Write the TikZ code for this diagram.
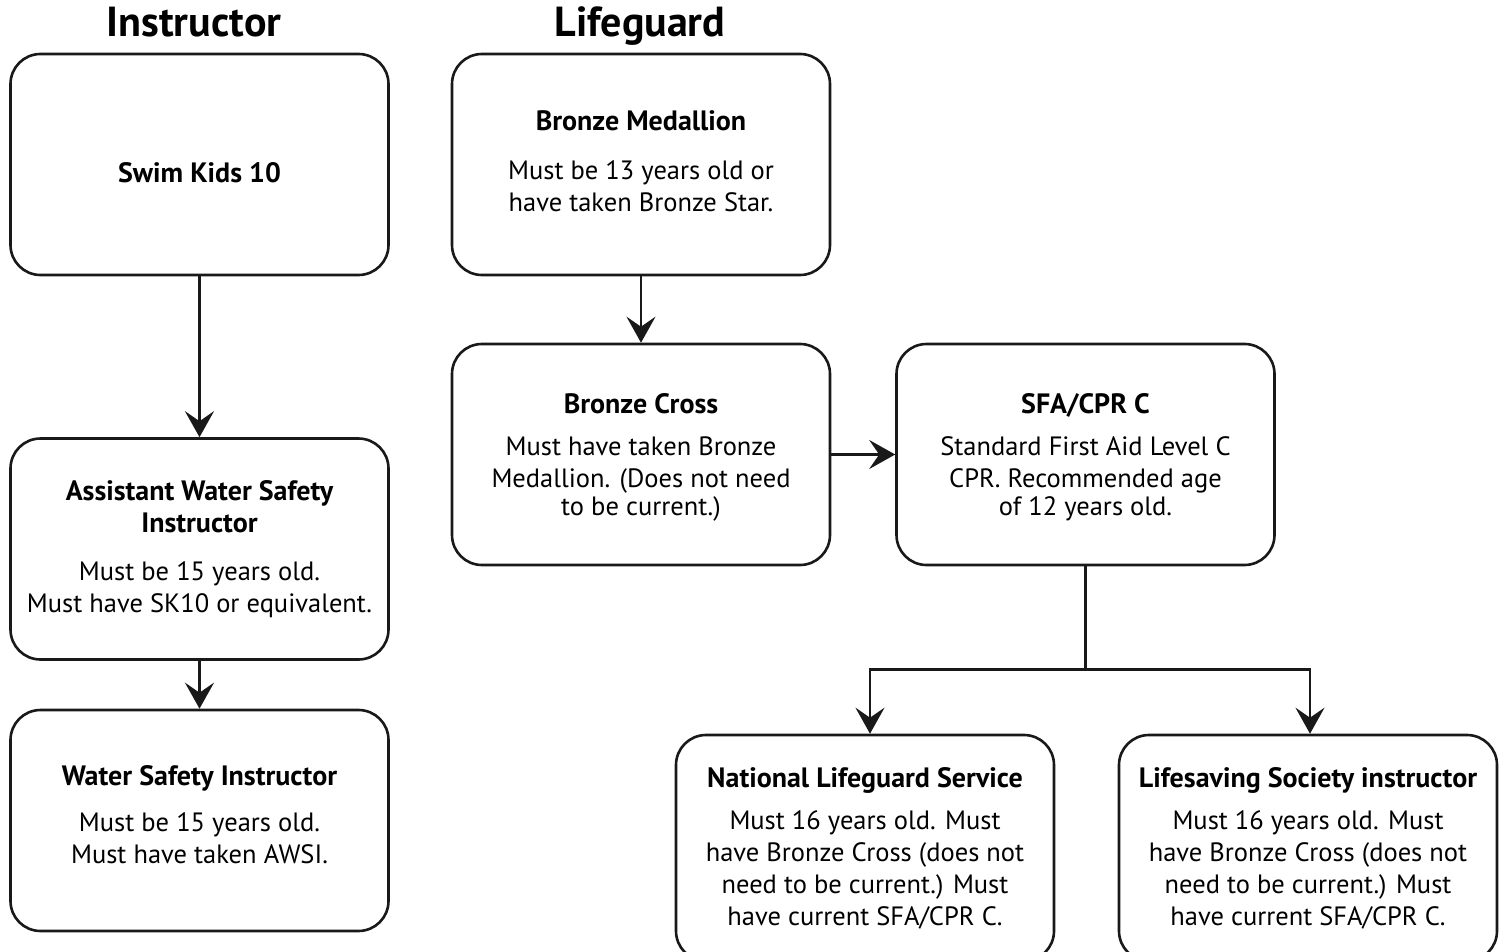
\documentclass[tikz,border=0pt]{standalone}
\usepackage{fontspec}
\setmainfont{PT Sans}
\usetikzlibrary{arrows.meta}
\newcommand{\ttlfont}{\fontsize{28}{32}\selectfont\bfseries}
\newcommand{\bodyfont}{\fontsize{26.5}{32}\selectfont}
\tikzset{
  box/.style={draw=black!90, line width=2.6pt, rounded corners=30pt, minimum width=378pt, minimum height=221pt, inner sep=0pt, fill=white},
  txt/.style={align=center, inner sep=0pt, font=\bodyfont},
  arr/.style={line width=2.6pt, draw=black!90, -{Stealth[length=26pt,width=29pt,inset=10pt]}},
  hdr/.style={font=\fontsize{42}{46}\selectfont\bfseries, inner sep=0pt, anchor=base},
}
\begin{document}
\begin{tikzpicture}[x=1pt,y=-1pt]
\useasboundingbox (0,0) rectangle (1505,952);
\clip (0,0) rectangle (1505,952);
\node[hdr] (hi) at (194,37) {Instructor};
\node[hdr] (hl) at (640,37) {Lifeguard};

\node[box] (sk) at (199.5,164.5) {};
\node[box] (awsi) at (199.5,549) {};
\node[box] (wsi) at (199.5,820.5) {};
\node[box] (bm) at (641,164.5) {};
\node[box] (bc) at (641,454.5) {};
\node[box] (sfa) at (1085.5,454.5) {};
\node[box, minimum height=226pt] (nls) at (865,848) {};
\node[box, minimum height=226pt] (lsi) at (1308,848) {};

\node[txt, yshift=-8pt] (skt) at (sk.center) {{\ttlfont Swim Kids 10}};
\node[txt] (awsit) at (awsi.center) {{\ttlfont Assistant Water Safety}\\{\ttlfont Instructor}\\[16pt]Must be 15 years old.\\Must have SK10 or equivalent.};
\node[txt, yshift=6pt] (wsit) at (wsi.center) {{\ttlfont Water Safety Instructor}\\[14pt]Must be 15 years old.\\Must have taken AWSI.};
\node[txt, yshift=3pt] (bmt) at (bm.center) {{\ttlfont Bronze Medallion}\\[17pt]Must be 13 years old or\\have taken Bronze Star.};
\node[txt, yshift=-3pt] (bct) at (bc.center) {{\ttlfont Bronze Cross}\\[10pt]Must have taken Bronze\\Medallion. (Does not need\\[-4pt]to be current.)};
\node[txt, yshift=-3pt] (sfat) at (sfa.center) {{\ttlfont SFA/CPR C}\\[10pt]Standard First Aid Level C\\CPR. Recommended age\\[-4pt]of 12 years old.};
\node[txt] (nlst) at (nls.center) {{\ttlfont National Lifeguard Service}\\[10pt]Must 16 years old. Must\\have Bronze Cross (does not\\need to be current.) Must\\have current SFA/CPR C.};
\node[txt] (lsit) at (lsi.center) {{\ttlfont Lifesaving Society instructor}\\[10pt]Must 16 years old. Must\\have Bronze Cross (does not\\need to be current.) Must\\have current SFA/CPR C.};

\draw[arr] (sk.south) -- (awsi.north);
\draw[arr] (awsi.south) -- (wsi.north);
\draw[arr] (bm.south) -- (bc.north);
\draw[arr] (bc.east) -- (sfa.west);
\coordinate (split) at ([yshift=-103pt]sfa.south);
\draw[line width=2.6pt, draw=black!90] (sfa.south) -- (split);
\draw[arr] (split) -| ([xshift=5pt]nls.north);
\draw[arr] (split) -| ([xshift=2pt]lsi.north);
\end{tikzpicture}
\end{document}
